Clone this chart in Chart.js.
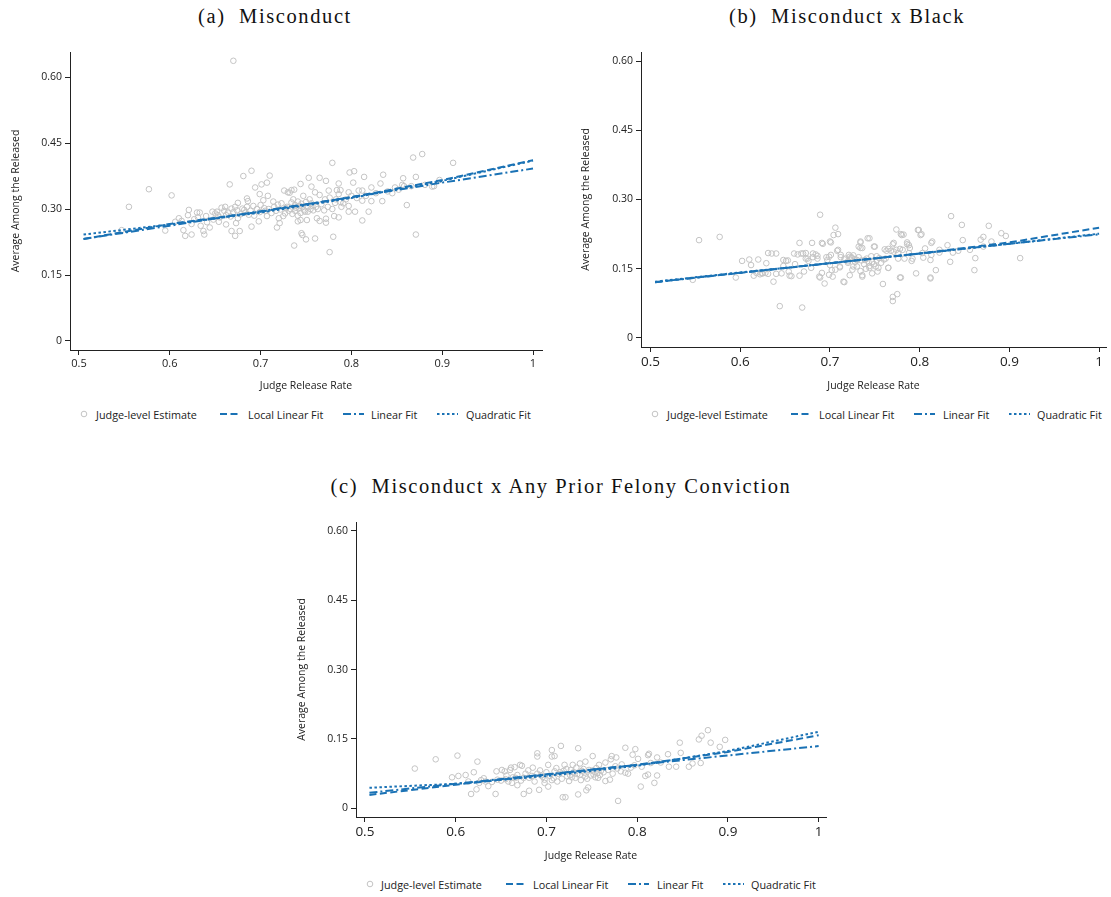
<!DOCTYPE html>
<html>
<head>
<meta charset="utf-8">
<script src="https://cdn.jsdelivr.net/npm/chart.js@4.4.1/dist/chart.umd.min.js"></script>
<style>
  body { margin: 0; background: #fff; width: 1111px; height: 897px; position: relative; overflow: hidden; }
  canvas { position: absolute; }
  .ptitle { position: absolute; font-family: "Liberation Serif", serif; font-size: 20.5px; letter-spacing: 1.6px; color: #111; white-space: nowrap; transform: translate(-50%, -50%); }
  .leg { position: absolute; font-family: "Open Sans", sans-serif; font-size: 10.8px; color: #222; white-space: nowrap; transform: translateY(-50%); }
  .legsym { position: absolute; transform: translateY(-50%); }
</style>
</head>
<body>
<div class="ptitle" style="left:275px; top:16px;">(a)&nbsp; Misconduct</div>
<div class="ptitle" style="left:847px; top:16px;">(b)&nbsp; Misconduct x Black</div>
<div class="ptitle" style="left:561px; top:486px;">(c)&nbsp; Misconduct x Any Prior Felony Conviction</div>

<canvas id="panelA" width="560" height="360" style="left:0px; top:40px;"></canvas>
<canvas id="panelB" width="551" height="360" style="left:560px; top:40px;"></canvas>
<canvas id="panelC" width="560" height="360" style="left:280px; top:510px;"></canvas>

<div id="legends"></div>

<script>
// ---- data ----
const xTicks = [0.5, 0.6, 0.7, 0.8, 0.9, 1];
const xTickLabels = ['0.5', '0.6', '0.7', '0.8', '0.9', '1'];
const yTicks = [0, 0.15, 0.30, 0.45, 0.60];
const yTickLabels = ['0', '0.15', '0.30', '0.45', '0.60'];
const seriesNames = ['Judge-level Estimate', 'Local Linear Fit', 'Linear Fit', 'Quadratic Fit'];

// fitted lines are evaluated at these release rates
const fitX = [0.505, 0.6, 0.7, 0.8, 0.9, 1.0];

// (a) Misconduct
const aLocalLinear = [0.232, 0.266, 0.294, 0.327, 0.366, 0.411];
const aLinear      = [0.232, 0.262, 0.295, 0.327, 0.360, 0.392];
const aQuadratic   = [0.242, 0.265, 0.292, 0.325, 0.364, 0.410];
const aJudges = [
  [0.555,0.305],[0.577,0.345],[0.602,0.331],[0.547,0.252],[0.595,0.251],[0.610,0.279],[0.613,0.273],[0.615,0.252],
  [0.617,0.239],[0.624,0.242],[0.621,0.298],[0.620,0.286],[0.630,0.292],[0.633,0.292],[0.627,0.277],[0.624,0.266],
  [0.637,0.250],[0.638,0.242],[0.640,0.284],[0.644,0.258],[0.647,0.294],[0.652,0.294],[0.653,0.286],[0.654,0.271],
  [0.657,0.303],[0.661,0.305],[0.662,0.286],[0.662,0.265],[0.668,0.301],[0.672,0.305],[0.675,0.314],[0.666,0.356],
  [0.668,0.250],[0.672,0.239],[0.677,0.250],[0.673,0.268],[0.675,0.279],[0.681,0.375],[0.690,0.387],[0.685,0.324],
  [0.686,0.318],[0.685,0.305],[0.682,0.298],[0.690,0.260],[0.692,0.307],[0.694,0.349],[0.699,0.334],[0.701,0.356],
  [0.707,0.360],[0.710,0.376],[0.703,0.320],[0.699,0.293],[0.698,0.272],[0.704,0.302],[0.707,0.284],[0.708,0.330],
  [0.714,0.317],[0.718,0.258],[0.720,0.279],[0.721,0.268],[0.726,0.342],[0.730,0.338],[0.727,0.290],[0.728,0.302],
  [0.779,0.405],[0.868,0.417],[0.878,0.425],[0.912,0.405],[0.753,0.371],[0.765,0.371],[0.772,0.364],[0.744,0.357],
  [0.734,0.343],[0.737,0.344],[0.732,0.337],[0.798,0.383],[0.803,0.386],[0.814,0.373],[0.835,0.378],[0.857,0.370],
  [0.871,0.373],[0.786,0.358],[0.802,0.360],[0.832,0.358],[0.856,0.355],[0.756,0.351],[0.760,0.338],[0.775,0.342],
  [0.784,0.343],[0.788,0.343],[0.797,0.338],[0.808,0.342],[0.812,0.342],[0.822,0.349],[0.848,0.349],[0.881,0.355],
  [0.891,0.352],[0.897,0.366],[0.765,0.332],[0.771,0.322],[0.786,0.334],[0.747,0.330],[0.754,0.322],[0.741,0.317],
  [0.734,0.315],[0.756,0.313],[0.776,0.326],[0.782,0.314],[0.788,0.316],[0.791,0.313],[0.797,0.307],[0.812,0.319],
  [0.822,0.318],[0.834,0.318],[0.861,0.309],[0.797,0.294],[0.804,0.294],[0.819,0.294],[0.812,0.274],[0.786,0.281],
  [0.781,0.284],[0.772,0.278],[0.765,0.273],[0.772,0.269],[0.749,0.294],[0.752,0.294],[0.751,0.275],[0.744,0.275],
  [0.741,0.272],[0.762,0.279],[0.745,0.245],[0.746,0.241],[0.760,0.233],[0.750,0.231],[0.780,0.237],[0.737,0.217],
  [0.776,0.202],[0.871,0.242],[0.729,0.305],[0.733,0.300],[0.738,0.296],[0.742,0.301],[0.746,0.305],[0.748,0.297],
  [0.752,0.306],[0.755,0.300],[0.758,0.297],[0.744,0.291],[0.735,0.289],[0.741,0.285],[0.761,0.305],[0.738,0.309],
  [0.745,0.312],[0.670,0.637],[0.858,0.352],[0.866,0.352],[0.889,0.351],
  [0.650,0.290],[0.655,0.281],[0.660,0.296],[0.664,0.292],[0.667,0.283],[0.670,0.293],[0.674,0.297],[0.678,0.288],
  [0.680,0.301],[0.683,0.292],[0.687,0.287],[0.689,0.296],[0.693,0.285],[0.696,0.300],[0.700,0.309],[0.705,0.296],
  [0.709,0.300],[0.712,0.291],[0.715,0.305],[0.717,0.296],[0.719,0.310],[0.722,0.299],[0.725,0.284],[0.723,0.313],
  [0.731,0.296],[0.736,0.322],[0.739,0.303],[0.743,0.307],[0.750,0.316],[0.757,0.307],[0.763,0.300],[0.767,0.311],
  [0.770,0.297],[0.774,0.305],[0.779,0.300],[0.783,0.322],[0.789,0.305],[0.794,0.322],[0.800,0.330],[0.806,0.325],
  [0.816,0.330],[0.827,0.336],[0.840,0.340],[0.845,0.336],[0.852,0.344],[0.631,0.281],[0.641,0.270],[0.606,0.271],
  [0.634,0.262],[0.648,0.276]
];

// (b) Misconduct x Black
const bLocalLinear = [0.121, 0.141, 0.162, 0.183, 0.207, 0.239];
const bLinear      = [0.121, 0.1415, 0.162, 0.183, 0.204, 0.2246];
const bQuadratic   = [0.122, 0.142, 0.162, 0.183, 0.204, 0.226];
const bJudges = [
  [0.554,0.212],[0.577,0.219],[0.547,0.126],[0.595,0.131],[0.602,0.167],[0.610,0.170],[0.612,0.158],[0.620,0.170],
  [0.629,0.162],[0.631,0.184],[0.635,0.183],[0.615,0.135],[0.618,0.141],[0.622,0.138],[0.625,0.140],[0.631,0.139],
  [0.637,0.122],[0.640,0.139],[0.646,0.140],[0.644,0.069],[0.669,0.066],[0.648,0.156],[0.651,0.167],[0.653,0.168],
  [0.655,0.135],[0.660,0.183],[0.661,0.160],[0.666,0.206],[0.666,0.135],[0.670,0.183],[0.673,0.184],[0.673,0.172],
  [0.676,0.167],[0.679,0.152],[0.680,0.206],[0.681,0.183],[0.684,0.181],[0.686,0.178],[0.689,0.131],[0.689,0.267],
  [0.691,0.206],[0.694,0.118],[0.691,0.141],[0.697,0.169],[0.699,0.176],[0.701,0.207],[0.704,0.223],[0.706,0.239],
  [0.709,0.225],[0.702,0.147],[0.699,0.137],[0.706,0.148],[0.711,0.153],[0.716,0.121],[0.708,0.189],[0.712,0.180],
  [0.722,0.136],[0.724,0.173],[0.726,0.179],[0.728,0.171],
  [0.835,0.264],[0.847,0.245],[0.877,0.243],[0.891,0.227],[0.896,0.221],[0.912,0.173],[0.774,0.235],[0.779,0.225],
  [0.782,0.224],[0.798,0.234],[0.802,0.225],[0.868,0.213],[0.871,0.219],[0.880,0.209],[0.848,0.212],[0.831,0.201],
  [0.813,0.206],[0.806,0.194],[0.788,0.201],[0.786,0.207],[0.771,0.206],[0.778,0.193],[0.744,0.216],[0.734,0.207],
  [0.732,0.198],[0.736,0.195],[0.750,0.198],[0.761,0.192],[0.765,0.193],[0.771,0.187],[0.776,0.184],[0.789,0.195],
  [0.791,0.167],[0.804,0.174],[0.813,0.180],[0.822,0.191],[0.822,0.185],[0.837,0.185],[0.843,0.189],[0.856,0.191],
  [0.862,0.173],[0.871,0.198],[0.834,0.165],[0.818,0.147],[0.812,0.131],[0.796,0.140],[0.778,0.131],[0.759,0.117],
  [0.770,0.089],[0.775,0.095],[0.770,0.080],[0.861,0.147],[0.744,0.156],[0.747,0.140],[0.736,0.136],[0.755,0.173],
  [0.765,0.152],[0.754,0.152],[0.728,0.165],[0.732,0.175],[0.735,0.168],[0.738,0.160],[0.741,0.172],[0.743,0.164],
  [0.746,0.177],[0.749,0.160],[0.752,0.168],[0.757,0.163],[0.760,0.170],[0.716,0.170],[0.720,0.163],[0.722,0.176],
  [0.730,0.155],[0.740,0.150],[0.725,0.148],[0.734,0.145],
  [0.624,0.140],[0.628,0.141],[0.640,0.183],[0.648,0.169],[0.654,0.144],[0.657,0.134],[0.664,0.181],[0.668,0.183],
  [0.671,0.144],[0.675,0.172],[0.681,0.175],[0.686,0.172],[0.688,0.133],[0.692,0.204],[0.696,0.175],[0.700,0.209],
  [0.700,0.158],[0.701,0.180],[0.703,0.133],[0.709,0.191],[0.711,0.155],[0.712,0.175],[0.715,0.122],[0.717,0.172],
  [0.720,0.166],[0.721,0.180],[0.724,0.175],[0.726,0.155],[0.730,0.169],[0.734,0.209],[0.734,0.195],[0.736,0.133],
  [0.739,0.169],[0.742,0.216],[0.744,0.152],[0.747,0.165],[0.749,0.198],[0.751,0.155],[0.752,0.177],[0.753,0.144],
  [0.762,0.172],[0.763,0.189],[0.765,0.152],[0.768,0.189],[0.770,0.203],[0.774,0.191],[0.776,0.172],[0.779,0.131],
  [0.780,0.223],[0.781,0.191],[0.783,0.172],[0.786,0.203],[0.788,0.184],[0.792,0.172],[0.799,0.234],[0.801,0.223],
  [0.803,0.184],[0.812,0.169],[0.812,0.129],[0.814,0.209]
];

// (c) Misconduct x Any Prior Felony Conviction
const cLocalLinear = [0.029, 0.051, 0.073, 0.094, 0.122, 0.158];
const cLinear      = [0.0337, 0.053, 0.0735, 0.094, 0.1144, 0.1347];
const cQuadratic   = [0.0445, 0.053, 0.070, 0.092, 0.124, 0.1656];
const cJudges = [
  [0.555,0.086],[0.578,0.106],[0.602,0.114],[0.624,0.101],[0.596,0.067],[0.603,0.070],[0.611,0.072],[0.620,0.078],
  [0.614,0.058],[0.617,0.031],[0.623,0.041],[0.628,0.061],[0.633,0.058],[0.636,0.048],[0.644,0.031],[0.651,0.083],
  [0.654,0.080],[0.656,0.071],[0.661,0.088],[0.665,0.089],[0.671,0.094],[0.673,0.092],[0.662,0.055],[0.668,0.050],
  [0.675,0.031],[0.681,0.038],[0.666,0.066],[0.675,0.066],[0.680,0.082],[0.690,0.119],[0.690,0.112],[0.681,0.066],
  [0.692,0.040],[0.694,0.071],[0.698,0.062],[0.702,0.094],[0.706,0.126],[0.706,0.112],[0.709,0.113],[0.716,0.135],
  [0.702,0.047],[0.709,0.080],[0.714,0.074],[0.718,0.024],[0.712,0.058],[0.706,0.061],[0.720,0.094],[0.723,0.069],
  [0.698,0.055],
  [0.735,0.130],[0.787,0.131],[0.798,0.128],[0.812,0.115],[0.822,0.110],[0.834,0.117],[0.847,0.142],[0.848,0.120],
  [0.868,0.149],[0.871,0.157],[0.878,0.169],[0.881,0.142],[0.891,0.133],[0.897,0.148],[0.751,0.113],[0.772,0.113],
  [0.777,0.110],[0.795,0.116],[0.813,0.118],[0.801,0.107],[0.765,0.099],[0.771,0.106],[0.743,0.101],[0.737,0.097],
  [0.729,0.094],[0.758,0.094],[0.783,0.095],[0.787,0.077],[0.790,0.075],[0.809,0.070],[0.812,0.073],[0.822,0.071],
  [0.835,0.090],[0.843,0.090],[0.857,0.090],[0.861,0.097],[0.870,0.098],[0.819,0.055],[0.804,0.047],[0.779,0.016],
  [0.735,0.030],[0.744,0.039],[0.746,0.045],[0.721,0.024],[0.725,0.059],[0.732,0.066],[0.743,0.069],[0.752,0.073],
  [0.757,0.066],[0.765,0.059],[0.770,0.062],[0.738,0.061],[0.727,0.083],[0.755,0.087],[0.776,0.091],[0.726,0.072],
  [0.730,0.078],[0.734,0.074],[0.739,0.081],[0.742,0.077],[0.747,0.083],[0.749,0.071],[0.753,0.079],[0.756,0.076],
  [0.760,0.081],
  [0.640,0.057],[0.646,0.062],[0.650,0.060],[0.655,0.063],[0.658,0.058],[0.663,0.067],[0.668,0.072],[0.672,0.060],
  [0.677,0.075],[0.684,0.070],[0.687,0.058],[0.690,0.075],[0.693,0.082],[0.696,0.068],[0.700,0.078],[0.704,0.070],
  [0.708,0.065],[0.711,0.087],[0.715,0.078],[0.717,0.064],[0.719,0.081],[0.722,0.085],[0.728,0.067],[0.733,0.088],
  [0.737,0.073],[0.741,0.085],[0.745,0.064],[0.751,0.082],[0.754,0.067],[0.759,0.072],[0.763,0.078],[0.768,0.083],
  [0.773,0.075],[0.778,0.086],[0.782,0.080],[0.793,0.088],[0.797,0.093],[0.805,0.090],[0.815,0.098],[0.826,0.099],
  [0.631,0.065],[0.626,0.055],[0.645,0.080],[0.660,0.083],[0.685,0.088]
];

// ---- styling ----
const fitBlue = '#1a72b5';
const dotGrey = '#c4c4c4';
const dashLocal = [7, 3.5];
const dashLinear = [8, 3, 2, 3];
const dashQuad = [2.5, 2.5];
const tickFont = "'Open Sans', sans-serif";

function makePanel(id, judges, loc, lin, quad, g) {
  const pts = judges.map(p => ({ x: p[0], y: p[1] }));
  const fit = ys => fitX.map((x, i) => ({ x: x, y: ys[i] }));
  const lineSet = (label, ys, dash) => ({
    label: label, data: fit(ys), showLine: true, pointRadius: 0,
    borderColor: fitBlue, borderWidth: 2, borderDash: dash, fill: false, order: 1
  });

  return new Chart(document.getElementById(id), {
    type: 'scatter',
    data: {
      datasets: [
        lineSet(seriesNames[1], loc, dashLocal),
        lineSet(seriesNames[2], lin, dashLinear),
        lineSet(seriesNames[3], quad, dashQuad),
        {
          label: seriesNames[0], data: pts, order: 5,
          pointStyle: 'circle', pointRadius: 2.8, borderWidth: 1,
          borderColor: dotGrey, backgroundColor: 'rgba(0,0,0,0)'
        }
      ]
    },
    options: {
      responsive: false,
      animation: false,
      layout: { padding: { top: g.padTop, right: g.padRight, left: 0, bottom: 0 } },
      plugins: { legend: { display: false }, tooltip: { enabled: false } },
      scales: {
        x: {
          type: 'linear', min: g.xMin, max: g.xMax,
          afterBuildTicks: s => { s.ticks = xTicks.map(v => ({ value: v })); },
          afterFit: s => { s.height = g.xHeight; },
          ticks: {
            callback: (v, i) => xTickLabels[i], padding: 2, maxRotation: 0,
            color: '#222', font: { family: tickFont, size: g.xTickSize }
          },
          grid: { display: true, drawOnChartArea: false, drawTicks: true, tickLength: 5, color: '#222' },
          border: { display: true, color: '#222', width: 1 },
          title: {
            display: true, text: 'Judge Release Rate', color: '#222',
            font: { family: tickFont, size: 10.5 }, padding: { top: 0, bottom: g.xTitlePad }
          }
        },
        y: {
          type: 'linear', min: g.yMin, max: g.yMax,
          afterBuildTicks: s => { s.ticks = yTicks.map(v => ({ value: v })); },
          afterFit: s => { s.width = g.yWidth; },
          ticks: {
            callback: (v, i) => yTickLabels[i], padding: 3,
            color: '#222', font: { family: tickFont, size: 10.5 }
          },
          grid: { display: true, drawOnChartArea: false, drawTicks: true, tickLength: 5, color: '#222' },
          border: { display: true, color: '#222', width: 1 },
          title: {
            display: true, text: 'Average Among the Released', color: '#222',
            font: { family: tickFont, size: 10.5 }, padding: { top: g.yTitlePad, bottom: 0 }
          }
        }
      }
    }
  });
}

makePanel('panelA', aJudges, aLocalLinear, aLinear, aQuadratic, {
  xMin: 0.4901, xMax: 1.0099, yMin: -0.0205, yMax: 0.657,
  yWidth: 70, xHeight: 50, padTop: 12, padRight: 18,
  xTickSize: 11, xTitlePad: 7.4, yTitlePad: 9.4
});
makePanel('panelB', bJudges, bLocalLinear, bLinear, bQuadratic, {
  xMin: 0.4893, xMax: 1.0077, yMin: -0.0195, yMax: 0.6195,
  yWidth: 81, xHeight: 53, padTop: 12, padRight: 0,
  xTickSize: 13.5, xTitlePad: 7.4, yTitlePad: 19.4
});
makePanel('panelC', cJudges, cLocalLinear, cLinear, cQuadratic, {
  xMin: 0.4902, xMax: 1.0081, yMin: -0.0188, yMax: 0.6194,
  yWidth: 76, xHeight: 53, padTop: 12, padRight: 14,
  xTickSize: 13.5, xTitlePad: 7.4, yTitlePad: 15.4
});

// ---- legends (one row under each panel) ----
const legendRows = [
  { y: 414, circle: 84, text: [96, 248, 371, 466], sym: [220, 343, 437] },
  { y: 414, circle: 655, text: [667, 819, 943, 1037], sym: [791, 914, 1009] },
  { y: 884, circle: 370, text: [381, 533, 657, 751], sym: [506, 628, 723] }
];
const legendDash = [dashLocal, dashLinear, dashQuad];
const holder = document.getElementById('legends');
legendRows.forEach(row => {
  const c = document.createElementNS('http://www.w3.org/2000/svg', 'svg');
  c.setAttribute('width', 8); c.setAttribute('height', 8);
  c.setAttribute('class', 'legsym');
  c.style.left = (row.circle - 4) + 'px'; c.style.top = row.y + 'px';
  c.innerHTML = '<circle cx="4" cy="4" r="2.8" fill="none" stroke="' + dotGrey + '" stroke-width="1"/>';
  holder.appendChild(c);
  row.sym.forEach((x, k) => {
    const s = document.createElementNS('http://www.w3.org/2000/svg', 'svg');
    s.setAttribute('width', 21); s.setAttribute('height', 4);
    s.setAttribute('class', 'legsym');
    s.style.left = x + 'px'; s.style.top = row.y + 'px';
    s.innerHTML = '<line x1="0" y1="2" x2="21" y2="2" stroke="' + fitBlue + '" stroke-width="2" stroke-dasharray="' + legendDash[k].join(' ') + '"/>';
    holder.appendChild(s);
  });
  row.text.forEach((x, k) => {
    const d = document.createElement('div');
    d.className = 'leg';
    d.style.left = x + 'px'; d.style.top = row.y + 'px';
    d.textContent = seriesNames[k];
    holder.appendChild(d);
  });
});
</script>
</body>
</html>
